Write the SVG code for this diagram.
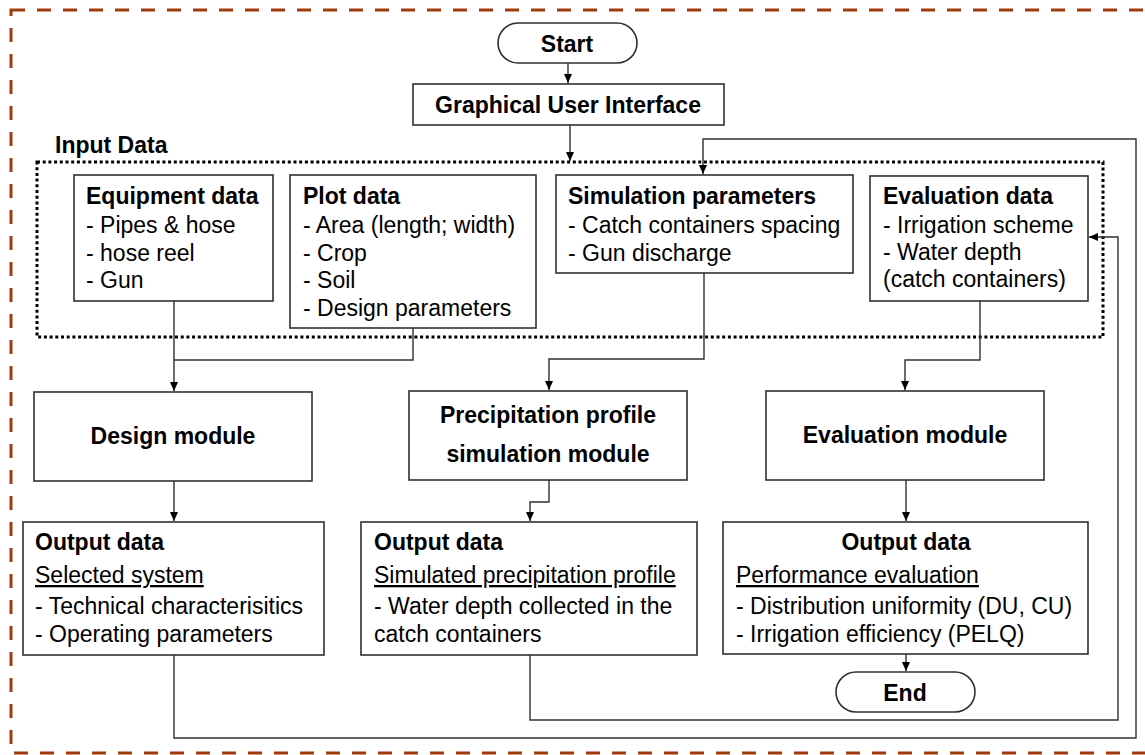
<svg xmlns="http://www.w3.org/2000/svg" width="1145" height="755" viewBox="0 0 1145 755">
<defs>
<marker id="arr" markerUnits="userSpaceOnUse" markerWidth="10" markerHeight="10" refX="9" refY="5" orient="auto">
<path d="M0,1 L9,5 L0,9 Z" fill="#000"/>
</marker>
<style>
.box{fill:#fff;stroke:#303030;stroke-width:1.6}
.ln{fill:none;stroke:#303030;stroke-width:1.4}
.b{font-family:"Liberation Sans",Arial,sans-serif;font-weight:bold;font-size:23px;fill:#000}
.r{font-family:"Liberation Sans",Arial,sans-serif;font-size:23px;fill:#000}
.c{text-anchor:middle}
.u{text-decoration:underline}
</style>
</defs>
<rect width="1145" height="755" fill="#fff"/>
<rect id="frame" x="11" y="10" width="1145" height="743" fill="none" stroke="#A03A0D" stroke-width="3" stroke-dasharray="14 12"/>
<g id="input-data">
<rect x="37" y="162" width="1066" height="175" fill="none" stroke="#000" stroke-width="3" stroke-dasharray="3 2.7"/>
<text class="b" x="55" y="153" font-size="24">Input Data</text>
</g>
<g id="connectors">
<path class="ln" d="M568,63 V83" marker-end="url(#arr)"/>
<path class="ln" d="M570,125 V161" marker-end="url(#arr)"/>
<path class="ln" d="M174,301 V391" marker-end="url(#arr)"/>
<path class="ln" d="M413,328 V360 H174"/>
<path class="ln" d="M704,273 V359 H549 V390" marker-end="url(#arr)"/>
<path class="ln" d="M980,301 V360 H905 V390" marker-end="url(#arr)"/>
<path class="ln" d="M174,481 V521" marker-end="url(#arr)"/>
<path class="ln" d="M549,480 V502 H530 V521" marker-end="url(#arr)"/>
<path class="ln" d="M906,480 V521" marker-end="url(#arr)"/>
<path class="ln" d="M906,654 V671" marker-end="url(#arr)"/>
<path class="ln" d="M174,655 V738 H1136 V139 H703 V174" marker-end="url(#arr)"/>
<path class="ln" d="M530,655 V720 H1118 V237 H1089" marker-end="url(#arr)"/>
</g>
<g id="start">
<rect class="box" x="498" y="23" width="139" height="40" rx="20"/>
<text class="b c" x="567" y="52">Start</text>
</g>
<g id="gui">
<rect class="box" x="413" y="84" width="311" height="41"/>
<text class="b c" x="568" y="113">Graphical User Interface</text>
</g>
<g id="equipment-data">
<rect class="box" x="74" y="175" width="199" height="126"/>
<text class="b" x="86" y="204">Equipment data</text>
<text class="r" x="86" y="233">- Pipes &amp; hose</text>
<text class="r" x="86" y="261">- hose reel</text>
<text class="r" x="86" y="288">- Gun</text>
</g>
<g id="plot-data">
<rect class="box" x="290" y="175" width="246" height="153"/>
<text class="b" x="303" y="204">Plot data</text>
<text class="r" x="303" y="233">- Area (length; width)</text>
<text class="r" x="303" y="261">- Crop</text>
<text class="r" x="303" y="288">- Soil</text>
<text class="r" x="303" y="316">- Design parameters</text>
</g>
<g id="simulation-parameters">
<rect class="box" x="556" y="175" width="297" height="98"/>
<text class="b" x="568" y="204">Simulation parameters</text>
<text class="r" x="568" y="233">- Catch containers spacing</text>
<text class="r" x="568" y="261">- Gun discharge</text>
</g>
<g id="evaluation-data">
<rect class="box" x="870" y="176" width="218" height="125"/>
<text class="b" x="883" y="204">Evaluation data</text>
<text class="r" x="883" y="233">- Irrigation scheme</text>
<text class="r" x="883" y="260">- Water depth</text>
<text class="r" x="883" y="287">(catch containers)</text>
</g>
<g id="design-module">
<rect class="box" x="34" y="392" width="278" height="89"/>
<text class="b c" x="173" y="444">Design module</text>
</g>
<g id="precipitation-module">
<rect class="box" x="409" y="391" width="278" height="89"/>
<text class="b c" x="548" y="423">Precipitation profile</text>
<text class="b c" x="548" y="462">simulation module</text>
</g>
<g id="evaluation-module">
<rect class="box" x="766" y="391" width="278" height="89"/>
<text class="b c" x="905" y="443">Evaluation module</text>
</g>
<g id="output-design">
<rect class="box" x="23" y="522" width="301" height="133"/>
<text class="b" x="35" y="550">Output data</text>
<text class="r u" x="35" y="583">Selected system</text>
<text class="r" x="35" y="614">- Technical characterisitics</text>
<text class="r" x="35" y="642">- Operating parameters</text>
</g>
<g id="output-precipitation">
<rect class="box" x="361" y="522" width="336" height="133"/>
<text class="b" x="374" y="550">Output data</text>
<text class="r u" x="374" y="583">Simulated precipitation profile</text>
<text class="r" x="374" y="614">- Water depth collected in the</text>
<text class="r" x="374" y="642">catch containers</text>
</g>
<g id="output-evaluation">
<rect class="box" x="723" y="522" width="365" height="132"/>
<text class="b c" x="906" y="550">Output data</text>
<text class="r u" x="736" y="583">Performance evaluation</text>
<text class="r" x="736" y="614">- Distribution uniformity (DU, CU)</text>
<text class="r" x="736" y="642">- Irrigation efficiency (PELQ)</text>
</g>
<g id="end">
<rect class="box" x="836" y="672" width="139" height="40" rx="20"/>
<text class="b c" x="905" y="701">End</text>
</g>
</svg>
